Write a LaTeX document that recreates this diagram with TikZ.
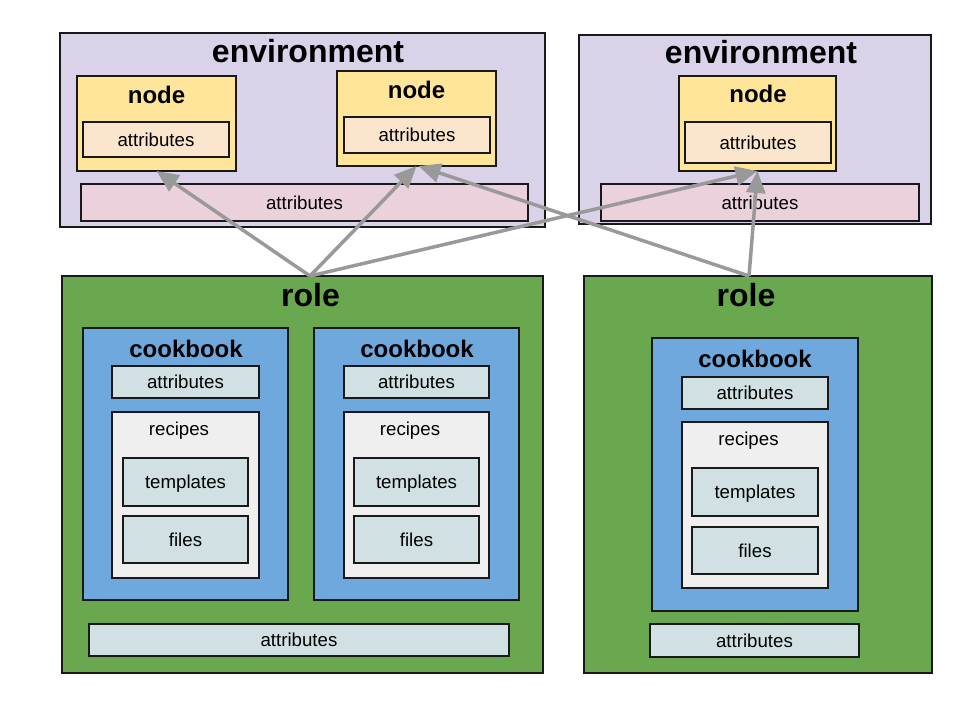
\documentclass[tikz,border=0pt]{standalone}
\usepackage{fontspec}
\setmainfont{Liberation Sans}
\usetikzlibrary{arrows.meta}
\definecolor{envc}{HTML}{D9D2E9}
\definecolor{nodec}{HTML}{FFE599}
\definecolor{nattr}{HTML}{FCE5CD}
\definecolor{eattr}{HTML}{EAD1DC}
\definecolor{rolec}{HTML}{6AA84F}
\definecolor{cbc}{HTML}{6FA8DC}
\definecolor{lblue}{HTML}{D0E0E3}
\definecolor{recc}{HTML}{EFEFEF}
\definecolor{arrc}{HTML}{999999}
\tikzset{
 box/.style={draw=black!90, line width=1.4pt, rectangle, anchor=north west, inner sep=0pt, outer sep=0pt,
   font=\fontsize{18.67}{22}\selectfont, text height=13.4pt, text depth=0pt, align=center},
 bigtitle/.style={anchor=base, inner sep=0pt, font=\fontsize{32}{36}\selectfont\bfseries},
 midtitle/.style={anchor=base, inner sep=0pt, font=\fontsize{24}{28}\selectfont\bfseries},
 smalltitle/.style={anchor=base, inner sep=0pt, font=\fontsize{18.67}{22}\selectfont},
 link/.style={draw=arrc, line width=3.5pt, -{Triangle[length=22pt,width=19pt]}},
}
\begin{document}
\begin{tikzpicture}[x=1pt,y=-1pt]
\useasboundingbox (0,0) rectangle (960,720);
% environment 1
\node[box, fill=envc, minimum width=485pt, minimum height=194pt] (env1) at (60,33) {};
\node[bigtitle] (env1t) at (308,62.5) {environment};
\node[box, fill=nodec, minimum width=159pt, minimum height=95pt] (node1) at (77,76) {};
\node[midtitle] (node1t) at (156.5,103) {node};
\node[box, fill=nattr, minimum width=146pt, minimum height=35pt] (node1a) at (83,122) {attributes};
\node[box, fill=nodec, minimum width=159pt, minimum height=95pt] (node2) at (337,71) {};
\node[midtitle] (node2t) at (416.5,98.3) {node};
\node[box, fill=nattr, minimum width=146pt, minimum height=36pt] (node2a) at (344,117) {attributes};
\node[box, fill=eattr, minimum width=447pt, minimum height=37pt] (env1a) at (81,184) {attributes};
% environment 2
\node[box, fill=envc, minimum width=352pt, minimum height=189pt] (env2) at (579,35) {};
\node[bigtitle] (env2t) at (761,63.3) {environment};
\node[box, fill=nodec, minimum width=157pt, minimum height=95pt] (node3) at (679,76) {};
\node[midtitle] (node3t) at (758,102.7) {node};
\node[box, fill=nattr, minimum width=146pt, minimum height=41pt] (node3a) at (685,122) {attributes};
\node[box, fill=eattr, minimum width=318pt, minimum height=37pt] (env2a) at (601,184) {attributes};
% role 1
\node[box, fill=rolec, minimum width=481pt, minimum height=397pt] (role1) at (62,276) {};
\node[bigtitle] (role1t) at (310.5,306) {role};
\node[box, fill=cbc, minimum width=205pt, minimum height=272pt] (cb1) at (83,328) {};
\node[midtitle] (cb1t) at (186,357.3) {cookbook};
\node[box, fill=lblue, minimum width=147pt, minimum height=32pt] (cb1a) at (112,366) {attributes};
\node[box, fill=recc, minimum width=147pt, minimum height=166pt] (rec1) at (112,412) {};
\node[smalltitle] (rec1t) at (179,435) {recipes};
\node[box, fill=lblue, minimum width=125pt, minimum height=48pt] (tpl1) at (123,458) {templates};
\node[box, fill=lblue, minimum width=125pt, minimum height=47pt] (fil1) at (123,516) {files};
\node[box, fill=cbc, minimum width=205pt, minimum height=272pt] (cb2) at (314,328) {};
\node[midtitle] (cb2t) at (417,357.3) {cookbook};
\node[box, fill=lblue, minimum width=145pt, minimum height=32pt] (cb2a) at (344,366) {attributes};
\node[box, fill=recc, minimum width=145pt, minimum height=166pt] (rec2) at (344,412) {};
\node[smalltitle] (rec2t) at (410,435) {recipes};
\node[box, fill=lblue, minimum width=125pt, minimum height=48pt] (tpl2) at (354,458) {templates};
\node[box, fill=lblue, minimum width=125pt, minimum height=47pt] (fil2) at (354,516) {files};
\node[box, fill=lblue, minimum width=420pt, minimum height=32pt] (role1a) at (89,624) {attributes};
% role 2
\node[box, fill=rolec, minimum width=348pt, minimum height=397pt] (role2) at (584,276) {};
\node[bigtitle] (role2t) at (746,306) {role};
\node[box, fill=cbc, minimum width=206pt, minimum height=273pt] (cb3) at (652,338) {};
\node[midtitle] (cb3t) at (755,367.3) {cookbook};
\node[box, fill=lblue, minimum width=146pt, minimum height=32pt] (cb3a) at (682,377) {attributes};
\node[box, fill=recc, minimum width=146pt, minimum height=166pt] (rec3) at (682,422) {};
\node[smalltitle] (rec3t) at (748.5,445.7) {recipes};
\node[box, fill=lblue, minimum width=126pt, minimum height=48pt] (tpl3) at (692,468) {templates};
\node[box, fill=lblue, minimum width=126pt, minimum height=47pt] (fil3) at (692,527) {files};
\node[box, fill=lblue, minimum width=209pt, minimum height=33pt] (role2a) at (650,624) {attributes};
% connectors
\coordinate (r1src) at (310,276);
\coordinate (r2src) at (749,276);
\draw[link] (r1src) -- (node1.south);
\draw[link] (r1src) -- (node2.south);
\draw[link] (r1src) -- (node3.south);
\draw[link] (r2src) -- ([xshift=2pt]node2.south);
\draw[link] (r2src) -- (node3.south);
\end{tikzpicture}
\end{document}
